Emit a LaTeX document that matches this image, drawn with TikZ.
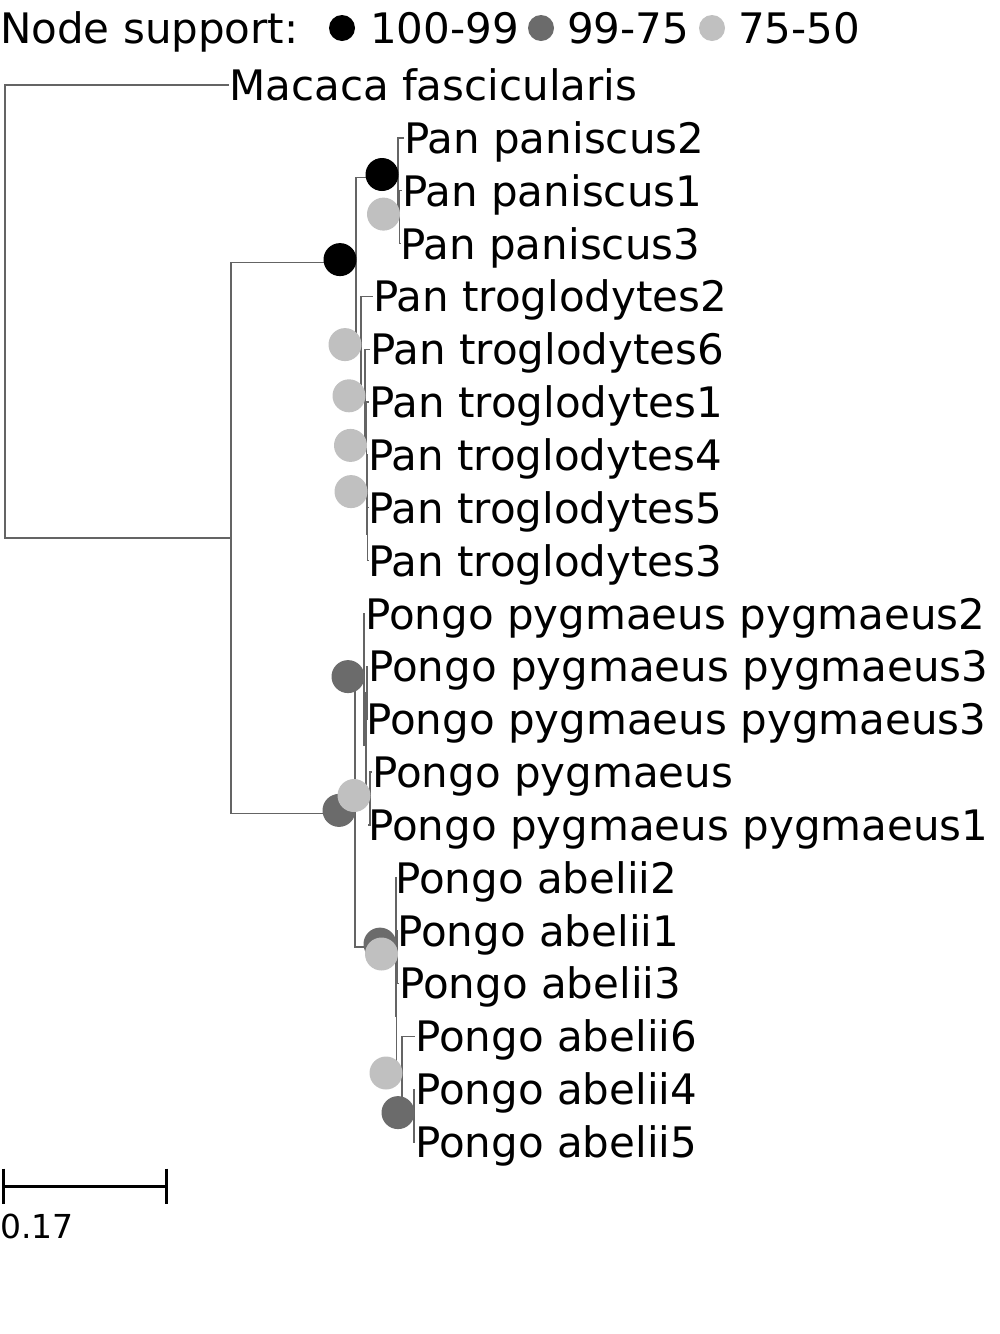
\documentclass[tikz,border=0pt]{standalone}
\usepackage{fontspec}
\setmainfont{DejaVu Sans}
\usetikzlibrary{positioning}

\definecolor{suphigh}{gray}{0}
\definecolor{supmid}{RGB}{107,107,107}
\definecolor{suplow}{RGB}{192,192,192}
\definecolor{branchcol}{RGB}{100,100,100}

\begin{document}
\begin{tikzpicture}[
  x=1pt, y=-1pt,
  branch/.style={draw=branchcol, line width=1.3pt},
  taxon/.style={anchor=base west, inner sep=0pt, font=\fontsize{42}{48}\selectfont, yshift=-15.5pt},
  legtext/.style={taxon},
  dot/.style={fill=#1},
  scalebar/.style={line width=3pt, black}
]
\useasboundingbox (0,0) rectangle (1000,1334);

% legend
\node[legtext] (legtitle) at (0,28) {Node support:};
\fill[dot=suphigh] (342,28) coordinate (leghigh) circle (13pt);
\node[legtext] (leghigh-t) at (370,28) {100-99};
\fill[dot=supmid] (541,28) coordinate (legmid) circle (13pt);
\node[legtext] (legmid-t) at (567,28) {99-75};
\fill[dot=suplow] (712,28) coordinate (leglow) circle (13pt);
\node[legtext] (leglow-t) at (738,28) {75-50};

% taxa (tip x / row)
\foreach \nm/\xx/\row/\txt in {
  mac/229/0/Macaca fascicularis,
  pp2/404/1/Pan paniscus2, pp1/402/2/Pan paniscus1, pp3/400/3/Pan paniscus3,
  pt2/373/4/Pan troglodytes2, pt6/370/5/Pan troglodytes6, pt1/369/6/Pan troglodytes1,
  pt4/368/7/Pan troglodytes4, pt5/368/8/Pan troglodytes5, pt3/368/9/Pan troglodytes3,
  ppp2/365/10/Pongo pygmaeus pygmaeus2, ppp3a/368/11/Pongo pygmaeus pygmaeus3,
  ppp3b/366/12/Pongo pygmaeus pygmaeus3, ppy/372/13/Pongo pygmaeus,
  ppp1/368/14/Pongo pygmaeus pygmaeus1,
  ab2/395/15/Pongo abelii2, ab1/397/16/Pongo abelii1, ab3/399/17/Pongo abelii3,
  ab6/415/18/Pongo abelii6, ab4/415/19/Pongo abelii4, ab5/415/20/Pongo abelii5} {
  \coordinate (\nm) at (\xx,{85+52.85*\row});
  \node[taxon] (\nm-t) at (\nm) {\txt};
}

% internal nodes
\coordinate (root) at (5,311.5);
\coordinate (ingroup) at (231,538);
\coordinate (pan) at (356,262.6);
\coordinate (pani) at (398,177.5);
\coordinate (paniC) at (399.5,217.1);
\coordinate (trT2) at (361,347.6);
\coordinate (trT6) at (365,398.8);
\coordinate (trT1) at (366.5,448.4);
\coordinate (trT4) at (367,494.6);
\coordinate (trT5) at (367.5,534.2);
\coordinate (pongo) at (355,813.4);
\coordinate (pygN1) at (364,679.6);
\coordinate (pygX) at (366,745.6);
\coordinate (pygZ) at (367,692.8);
\coordinate (pygW) at (370,798.5);
\coordinate (abA) at (396,947.1);
\coordinate (abB) at (396.5,1016.5);
\coordinate (abC) at (397.5,957);
\coordinate (abD) at (402,1076);
\coordinate (abE) at (414,1115.6);

% branches
\foreach \pa/\ch in {root/mac, root/ingroup, ingroup/pan, ingroup/pongo,
  pan/pani, pan/trT2, pani/pp2, pani/paniC, paniC/pp1, paniC/pp3,
  trT2/pt2, trT2/trT6, trT6/pt6, trT6/trT1, trT1/pt1, trT1/trT4,
  trT4/pt4, trT4/trT5, trT5/pt5, trT5/pt3,
  pongo/pygN1, pongo/abA, pygN1/ppp2, pygN1/pygX, pygX/pygZ, pygX/pygW,
  pygZ/ppp3a, pygZ/ppp3b, pygW/ppy, pygW/ppp1,
  abA/ab2, abA/abB, abB/abC, abB/abD, abC/ab1, abC/ab3,
  abD/ab6, abD/abE, abE/ab4, abE/ab5}
  \draw[branch] (\pa) |- (\ch);

% node support
\foreach \nd/\col in {pani/suphigh, pan/suphigh,
  pygN1/supmid, pongo/supmid, abA/supmid, abE/supmid,
  paniC/suplow, trT2/suplow, trT6/suplow, trT1/suplow, trT4/suplow,
  pygW/suplow, abC/suplow, abD/suplow}
  \fill[dot=\col] ([shift={(-16,-3)}]\nd) circle (16.5pt);

% scale
\coordinate (sbL) at (3,1186);
\coordinate (sbR) at (166,1186);
\draw[scalebar] (sbL) -- (sbR);
\draw[scalebar] ([yshift=17.5pt]sbL) -- ([yshift=-17.5pt]sbL);
\draw[scalebar] ([yshift=17.5pt]sbR) -- ([yshift=-17.5pt]sbR);
\node[anchor=base west, inner sep=0pt, font=\fontsize{33}{38}\selectfont] (sblab) at (0,1238) {0.17};
\end{tikzpicture}
\end{document}
